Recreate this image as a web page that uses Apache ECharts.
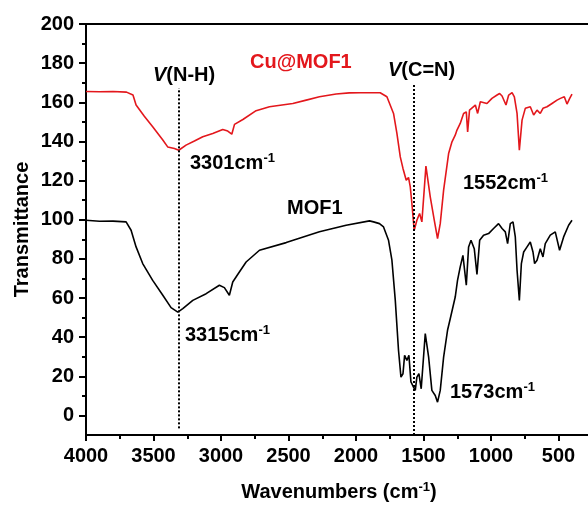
<!DOCTYPE html>
<html>
<head>
<meta charset="utf-8">
<script src="https://cdn.jsdelivr.net/npm/echarts@6/dist/echarts.min.js"></script>
<style>
  html, body { margin: 0; padding: 0; background: #fff; }
  #chart { width: 588px; height: 506px; }
</style>
</head>
<body>
<div id="chart"></div>
<script>
// FTIR spectra: wavenumber (cm-1) and transmittance for each sample
const cuMofWavenumber = [4000, 3900, 3800, 3700, 3689, 3652, 3629, 3568, 3506, 3431, 3395, 3345, 3313, 3259, 3197, 3135, 3061, 2987, 2950, 2920, 2900, 2838, 2740, 2641, 2468, 2369, 2271, 2147, 2050, 1969, 1821, 1771, 1722, 1697, 1672, 1652, 1640, 1628, 1611, 1598, 1586, 1569, 1549, 1529, 1512, 1482, 1450, 1420, 1396, 1376, 1351, 1314, 1289, 1265, 1252, 1228, 1203, 1183, 1173, 1159, 1116, 1099, 1079, 1030, 993, 955, 936, 918, 889, 869, 844, 827, 807, 790, 770, 746, 709, 684, 659, 635, 615, 585, 548, 511, 486, 457, 437, 417, 400];
const cuMofTransmittance = [165.5, 165.4, 165.5, 165.2, 165.0, 163.7, 158.6, 152.9, 147.5, 140.7, 137.2, 136.4, 135.5, 138.1, 140.2, 142.4, 144.1, 146.1, 145.3, 143.7, 148.7, 151.2, 155.7, 157.7, 159.4, 161.1, 162.8, 164.2, 164.8, 164.9, 164.9, 162.8, 154.3, 144.1, 132.1, 126.2, 127.0, 120.2, 121.6, 116.8, 108.3, 94.6, 99.7, 103.2, 98.9, 127.4, 111.7, 99.7, 90.4, 98.0, 115.1, 133.8, 139.8, 143.2, 145.8, 149.2, 154.3, 155.1, 144.9, 156.0, 158.6, 154.3, 160.3, 159.4, 162.0, 163.7, 164.5, 163.2, 158.6, 163.7, 164.9, 162.8, 154.3, 135.5, 150.9, 156.9, 157.7, 153.5, 156.0, 154.3, 156.9, 157.7, 159.4, 161.1, 162.0, 162.8, 159.1, 162.0, 164.2];

const mofWavenumber = [4000, 3900, 3800, 3703, 3666, 3629, 3580, 3506, 3431, 3370, 3320, 3283, 3209, 3110, 3012, 2975, 2938, 2913, 2864, 2814, 2715, 2517, 2271, 2073, 1900, 1870, 1826, 1796, 1759, 1734, 1709, 1685, 1667, 1652, 1640, 1623, 1608, 1593, 1574, 1561, 1549, 1534, 1517, 1487, 1462, 1438, 1413, 1396, 1376, 1351, 1322, 1302, 1282, 1265, 1248, 1228, 1208, 1198, 1183, 1166, 1148, 1124, 1104, 1084, 1055, 1018, 981, 944, 918, 894, 877, 857, 837, 820, 807, 790, 775, 758, 733, 709, 689, 677, 659, 635, 615, 598, 561, 524, 492, 462, 425, 400];
const mofTransmittance = [99.7, 99.2, 99.3, 98.9, 94.6, 86.1, 77.6, 69.0, 61.4, 55.1, 52.8, 54.6, 58.8, 62.2, 66.5, 65.3, 61.4, 68.2, 73.3, 78.4, 84.4, 88.3, 93.8, 97.2, 99.4, 98.9, 98.0, 96.3, 89.5, 79.3, 58.8, 33.2, 19.6, 21.3, 30.7, 28.1, 30.7, 17.1, 14.5, 12.8, 19.6, 21.3, 13.6, 41.8, 29.8, 12.8, 10.2, 6.8, 12.8, 29.8, 43.5, 49.4, 55.4, 60.5, 69.0, 75.9, 81.8, 82.7, 66.5, 86.1, 89.5, 85.2, 72.1, 89.5, 92.1, 92.9, 95.5, 98.0, 95.5, 93.8, 87.8, 98.0, 98.9, 91.2, 74.2, 58.8, 77.6, 83.5, 86.1, 88.6, 83.5, 77.6, 79.3, 85.2, 81.0, 87.8, 92.1, 93.8, 84.4, 91.2, 97.2, 99.7];

// Band positions marked by the dotted guides
const nhBand = 3315;
const cnBand = 1573;

// Axis ticks
const yMajorTicks = [0, 20, 40, 60, 80, 100, 120, 140, 160, 180, 200];
const yMinorTicks = [10, 30, 50, 70, 90, 110, 130, 150, 170, 190];

const zip = (xs, ys) => xs.map((x, i) => [x, ys[i]]);

const FONT = '"Liberation Sans", Arial, sans-serif';
const RED = '#e3171c';
const tok = (extra) => Object.assign({ fontFamily: FONT, fontWeight: 'bold', fontSize: 20, fill: '#000', lineHeight: 22 }, extra || {});
const richBase = {
  b: tok(),
  s: tok({ fontSize: 13, lineHeight: 13, verticalAlign: 'top' }),
  i: tok({ fontStyle: 'italic' }),
  r: tok({ fill: RED })
};

function label(x, y, text, extra) {
  return {
    type: 'text', x: x, y: y, z: 100,
    style: Object.assign({ text: text, rich: richBase, align: 'left', verticalAlign: 'middle', font: 'bold 20px ' + FONT }, extra || {})
  };
}

const chart = echarts.init(document.getElementById('chart'), null, { renderer: 'canvas' });

const axisLine = { show: true, onZero: false, lineStyle: { color: '#000', width: 2 } };
const tickFont = { fontFamily: FONT, fontWeight: 'bold', fontSize: 20, color: '#000', formatter: (v) => String(v) };

chart.setOption({
  animation: false,
  backgroundColor: '#fff',
  grid: { left: 86, top: 24, right: -38, bottom: 71, containLabel: false, outerBoundsMode: 'none' },
  xAxis: [
    {
      type: 'value', position: 'bottom', inverse: true, min: 0, max: 4000, interval: 500,
      axisLine: axisLine,
      axisTick: { show: true, inside: false, length: 6, lineStyle: { color: '#000', width: 2 } },
      minorTick: { show: true, splitNumber: 2, length: 4, lineStyle: { color: '#000', width: 2 } },
      axisLabel: Object.assign({ margin: 11 }, tickFont),
      splitLine: { show: false }, minorSplitLine: { show: false }
    },
    {
      type: 'value', position: 'top', inverse: true, min: 0, max: 4000, interval: 500,
      axisLine: axisLine, axisTick: { show: false }, axisLabel: { show: false },
      splitLine: { show: false }
    }
  ],
  yAxis: [
    {
      type: 'value', position: 'left', min: -10, max: 200,
      axisLine: axisLine,
      axisTick: { show: true, inside: false, length: 7, customValues: yMajorTicks, lineStyle: { color: '#000', width: 2 } },
      axisLabel: Object.assign({ margin: 12, customValues: yMajorTicks }, tickFont),
      splitLine: { show: false }
    },
    {
      type: 'value', position: 'left', min: -10, max: 200,
      axisLine: { show: false, onZero: false },
      axisTick: { show: true, inside: false, length: 4, customValues: yMinorTicks, lineStyle: { color: '#000', width: 2 } },
      axisLabel: { show: false },
      splitLine: { show: false }
    }
  ],
  series: [
    {
      name: 'Cu@MOF1', type: 'line', xAxisIndex: 0, yAxisIndex: 0,
      data: zip(cuMofWavenumber, cuMofTransmittance),
      showSymbol: false, lineStyle: { color: RED, width: 1.6 }, z: 3
    },
    {
      name: 'MOF1', type: 'line', xAxisIndex: 0, yAxisIndex: 0,
      data: zip(mofWavenumber, mofTransmittance),
      showSymbol: false, lineStyle: { color: '#000', width: 1.6 }, z: 3,
      markLine: {
        silent: true, symbol: ['none', 'none'], label: { show: false },
        lineStyle: { color: '#000', width: 2, type: [2, 2] },
        data: [
          [{ coord: [nhBand, -6.6] }, { coord: [nhBand, 167.3] }],
          [{ coord: [cnBand, -10] }, { coord: [cnBand, 168.8] }]
        ]
      }
    }
  ],
  graphic: [
    label(153, 75, '{i|V}{b|(N-H)}'),
    label(250, 62, '{r|Cu@MOF1}'),
    label(388, 70, '{i|V}{b|(C=N)}'),
    label(190, 163, '{b|' + 3301 + 'cm}{s|-1}'),
    label(463, 183, '{b|' + 1552 + 'cm}{s|-1}'),
    label(287, 208, '{b|MOF1}'),
    label(185, 335, '{b|' + 3315 + 'cm}{s|-1}'),
    label(450, 392, '{b|' + 1573 + 'cm}{s|-1}'),
    label(339, 492, '{b|Wavenumbers (cm}{s|-1}{b|)}', { align: 'center' }),
    {
      type: 'text', x: 22, y: 229.5, rotation: Math.PI / 2, z: 100,
      style: { text: 'Transmittance', font: 'bold 20px ' + FONT, fill: '#000', align: 'center', verticalAlign: 'middle' }
    }
  ]
});
</script>
</body>
</html>
